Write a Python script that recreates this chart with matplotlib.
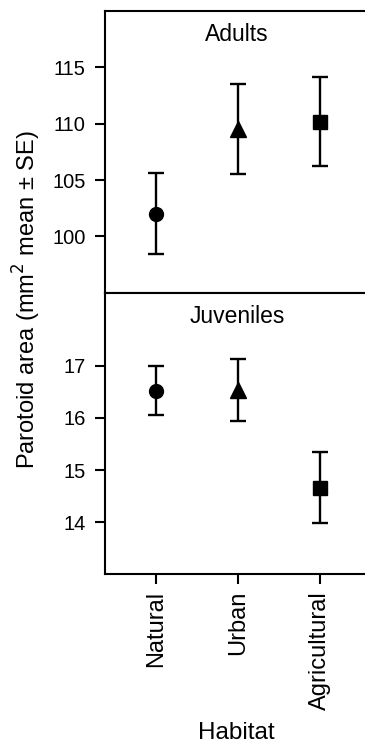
import matplotlib
matplotlib.use("Agg")
import matplotlib.pyplot as plt

plt.rcParams['font.family'] = ['Liberation Sans', 'DejaVu Sans']

habitats = ["Natural", "Urban", "Agricultural"]
markers = ["o", "^", "s"]
adult_mean = [102.0, 109.5, 110.15]
adult_se = [3.6, 4.0, 3.95]
juv_mean = [16.52, 16.53, 14.66]
juv_se = [0.47, 0.59, 0.68]

W, H = 365, 746
fig = plt.figure(figsize=(W / 100, H / 100), dpi=100)

left = 105 / W
right = 1.0
ax_top = fig.add_axes([left, 1 - 292.7 / H, right - left + 0.01, (292.7 - 11) / H])
ax_bot = fig.add_axes([left, 1 - 574.3 / H, right - left + 0.01, (574.3 - 292.7) / H])

x = [1, 2, 3]
for ax, means, ses in [(ax_top, adult_mean, adult_se), (ax_bot, juv_mean, juv_se)]:
    for xi, m, s, mk in zip(x, means, ses, markers):
        ms = 10 if mk == "o" else (12 if mk == "^" else 9.5)
        ax.errorbar(xi, m, yerr=s, fmt=mk, color="black", markersize=ms,
                    elinewidth=1.7, capsize=6, capthick=1.7, zorder=3)
    ax.set_xlim(0.38, 3.6)
    for sp in ax.spines.values():
        sp.set_linewidth(1.5)
    ax.spines['right'].set_visible(False)
    ax.tick_params(axis='y', direction='out', length=7, width=1.5, labelsize=14.5, pad=7)
    ax.tick_params(axis='x', direction='out', length=7, width=1.5, labelsize=17, pad=5)

ax_top.set_ylim(95, 120)
ax_top.set_yticks([100, 105, 110, 115])
ax_top.set_xticks([])
ax_top.text(0.5, 1 - (34 - 11) / 281.7, "Adults", transform=ax_top.transAxes, ha="center",
            va="center", fontsize=16.5)

ax_bot.set_ylim(13, 18.4)
ax_bot.set_yticks([14, 15, 16, 17])
ax_bot.set_xticks(x)
ax_bot.set_xticklabels(habitats, rotation=90, fontsize=17)
ax_bot.text(0.5, 1 - (316 - 292.7) / 281.6, "Juveniles", transform=ax_bot.transAxes,
            ha="center", va="center", fontsize=16.5)

fig.text(27 / W, 1 - 300 / H, "Parotoid area (mm$^2$ mean \u00b1 SE)", rotation=90,
         ha="center", va="center", fontsize=17)
fig.text(236 / W, 1 - 733 / H, "Habitat", ha="center", va="center", fontsize=17.5)

fig.savefig("out.png", dpi=100)
